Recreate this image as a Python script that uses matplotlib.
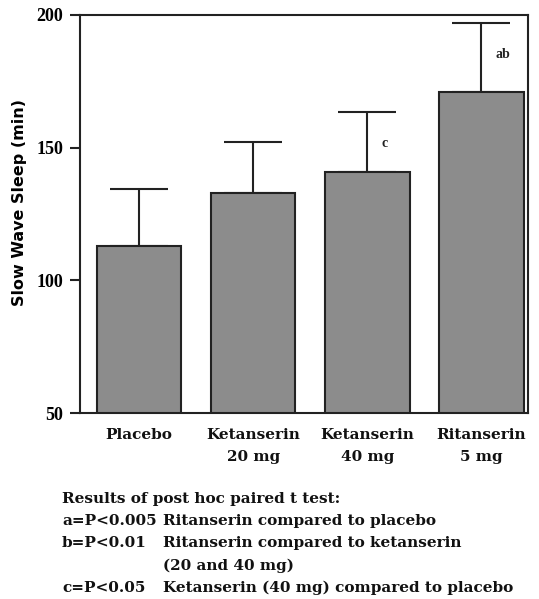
import matplotlib
matplotlib.use("Agg")
import matplotlib.pyplot as plt
import numpy as np

groups = ["Placebo", "Ketanserin\n20 mg", "Ketanserin\n40 mg", "Ritanserin\n5 mg"]
means = [113, 133, 141, 171]
err_up = [21.5, 19, 22.5, 26]
marks = ["", "", "c", "ab"]
yticks = [50, 100, 150, 200]
footnotes = [
    ("a=P<0.005", "Ritanserin compared to placebo"),
    ("b=P<0.01", "Ritanserin compared to ketanserin"),
    ("", "(20 and 40 mg)"),
    ("c=P<0.05", "Ketanserin (40 mg) compared to placebo"),
]

plt.rcParams['font.family'] = ['DejaVu Serif']
plt.rcParams['font.weight'] = 'bold'

fig = plt.figure(figsize=(5.39, 5.99), dpi=100)
ax = fig.add_axes([0.148, 0.3105, 0.832, 0.6645])

x = np.arange(len(groups))
ax.bar(x, means, width=0.74, bottom=0, color='#8c8c8c', edgecolor='#222222',
       linewidth=1.5, zorder=2)
ax.errorbar(x, means, yerr=[np.zeros(len(means)), err_up], fmt='none',
            ecolor='#222222', elinewidth=1.5, capsize=21, capthick=1.5, zorder=1)

# significance letters next to the error bars
for xi, m, e, lab in zip(x, means, err_up, marks):
    if lab:
        ax.text(xi + 0.12, m + e - 12, lab, fontsize=10, ha='left', va='center',
                color='#222222', family=['Liberation Serif'])

ax.set_ylim(50, 200)
ax.set_xlim(-0.52, 3.41)
ax.set_yticks(yticks)
ax.set_yticklabels([str(t) for t in yticks], fontsize=13,
                   family=['Liberation Serif'], fontweight='bold')
ax.set_xticks([])
ax.tick_params(axis='y', direction='out', length=7, width=1.5, color='#222222', pad=5)
for s in ax.spines.values():
    s.set_linewidth(1.5)
    s.set_color('#222222')
ax.set_ylabel("Slow Wave Sleep (min)", fontsize=11.5,
              family=['DejaVu Sans'], fontweight='bold')
ax.yaxis.set_label_coords(-0.118, 0.53)

for xi, g in zip(x, groups):
    ax.text(xi, 44.5, g, ha='center', va='top', fontsize=11,
            linespacing=1.75, color='#111111')

fig.text(62 / 539, 1 - 499 / 599, "Results of post hoc paired t test:",
         fontsize=11, va='center', color='#111111')
for i, (k, txt) in enumerate(footnotes):
    yy = 1 - (521 + 22.3 * i) / 599
    if k:
        fig.text(62 / 539, yy, k, fontsize=11, va='center', color='#111111')
    fig.text(163 / 539, yy, txt, fontsize=11, va='center', color='#111111')

fig.savefig("out.png", dpi=100)
